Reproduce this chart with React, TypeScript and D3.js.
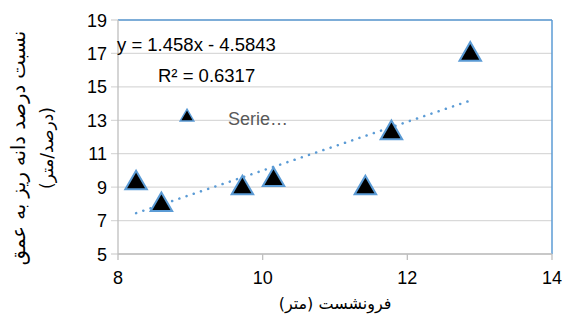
import { useEffect, useRef } from 'react';
import * as d3 from 'd3';

const xVals = [8.25, 8.6, 9.72, 10.15, 11.42, 11.78, 12.87];
const yVals = [9.3, 8.0, 9.0, 9.5, 9.0, 12.3, 17.0];
const xTicks = [8, 10, 12, 14];
const yTicks = [5, 7, 9, 11, 13, 15, 17, 19];
const slope = 1.458;
const intercept = -4.5843;
const eqLabel = 'y = 1.458x - 4.5843';
const r2Label = 'R² = 0.6317';
const seriesName = 'Serie…';
const xTitle = 'فرونشست (متر)';
const yTitle1 = 'نسبت درصد دانه ریز به عمق';
const yTitle2 = '(درصد/متر)';

const W = 563;
const H = 315;
const blue = '#5B9BD5';

export default function App() {
  const svgRef = useRef<SVGSVGElement>(null);

  useEffect(() => {
    if (!svgRef.current) return;
    const svg = d3.select(svgRef.current);
    svg.selectAll('*').remove();

    const left = 118, right = 552, top = 20, bottom = 254;
    const x = d3.scaleLinear().domain([8, 14]).range([left, right]);
    const y = d3.scaleLinear().domain([5, 19]).range([bottom, top]);

    // gridlines
    svg.append('g').selectAll('line').data(yTicks).enter().append('line')
      .attr('x1', left - 7).attr('x2', right)
      .attr('y1', d => y(d)).attr('y2', d => y(d))
      .attr('stroke', '#d9d9d9').attr('stroke-width', 1.3);

    // plot border (blue top/right)
    svg.append('line').attr('x1', left).attr('x2', right).attr('y1', top).attr('y2', top)
      .attr('stroke', blue).attr('stroke-width', 1.5);
    svg.append('line').attr('x1', right).attr('x2', right).attr('y1', top).attr('y2', bottom)
      .attr('stroke', blue).attr('stroke-width', 1.5);

    // axes
    svg.append('line').attr('x1', left).attr('x2', left).attr('y1', top).attr('y2', bottom)
      .attr('stroke', '#bfbfbf').attr('stroke-width', 1.3);
    svg.append('line').attr('x1', left).attr('x2', right).attr('y1', bottom).attr('y2', bottom)
      .attr('stroke', '#bfbfbf').attr('stroke-width', 1.3);
    svg.append('g').selectAll('line').data(xTicks).enter().append('line')
      .attr('x1', d => x(d)).attr('x2', d => x(d))
      .attr('y1', bottom).attr('y2', bottom + 6)
      .attr('stroke', '#bfbfbf').attr('stroke-width', 1.3);

    const font = '"Liberation Sans", Arial, sans-serif';
    svg.append('g').selectAll('text').data(yTicks).enter().append('text')
      .attr('x', left - 11).attr('y', d => y(d) + 6.5)
      .attr('text-anchor', 'end')
      .attr('font-family', font).attr('font-size', 18).attr('fill', '#000')
      .text(d => d);
    svg.append('g').selectAll('text').data(xTicks).enter().append('text')
      .attr('x', d => x(d)).attr('y', bottom + 30)
      .attr('text-anchor', 'middle')
      .attr('font-family', font).attr('font-size', 18).attr('fill', '#000')
      .text(d => d);

    // trendline
    const x0 = d3.min(xVals)!, x1 = d3.max(xVals)!;
    svg.append('line')
      .attr('x1', x(x0)).attr('y1', y(slope * x0 + intercept))
      .attr('x2', x(x1)).attr('y2', y(slope * x1 + intercept))
      .attr('stroke', blue).attr('stroke-width', 2.5)
      .attr('stroke-dasharray', '0.1 7.5').attr('stroke-linecap', 'round');

    // markers
    const tri = d3.symbol().type(d3.symbolTriangle).size(200);
    svg.append('g').selectAll('path').data(xVals).enter().append('path')
      .attr('d', tri)
      .attr('transform', (d, i) => `translate(${x(d)},${y(yVals[i]) + 1})`)
      .attr('fill', '#000').attr('stroke', blue).attr('stroke-width', 2);

    // legend
    const triSmall = d3.symbol().type(d3.symbolTriangle).size(80);
    svg.append('path').attr('d', triSmall)
      .attr('transform', `translate(187,117)`)
      .attr('fill', '#000').attr('stroke', blue).attr('stroke-width', 1.5);
    svg.append('text').attr('x', 228).attr('y', 125)
      .attr('font-family', font).attr('font-size', 18).attr('fill', '#595959')
      .text(seriesName);

    // equation
    svg.append('text').attr('x', 117).attr('y', 51)
      .attr('font-family', font).attr('font-size', 18.5).attr('fill', '#000')
      .text(eqLabel);
    svg.append('text').attr('x', 158).attr('y', 82)
      .attr('font-family', font).attr('font-size', 18.5).attr('fill', '#000')
      .text(r2Label);

    // titles
    const pfont = '"DejaVu Sans", sans-serif';
    svg.append('text').attr('x', 335).attr('y', 309)
      .attr('text-anchor', 'middle').attr('direction', 'rtl')
      .attr('font-family', pfont).attr('font-size', 16).attr('fill', '#000')
      .text(xTitle);
    svg.append('text').attr('transform', `translate(25,148) rotate(-90)`)
      .attr('text-anchor', 'middle').attr('direction', 'rtl')
      .attr('font-family', pfont).attr('font-size', 19.5).attr('fill', '#000')
      .text(yTitle1);
    svg.append('text').attr('transform', `translate(53,148) rotate(-90)`)
      .attr('text-anchor', 'middle').attr('direction', 'rtl')
      .attr('font-family', pfont).attr('font-size', 17).attr('fill', '#000')
      .text(yTitle2);
  }, []);

  return (
    <svg ref={svgRef} width={W} height={H}
      style={{ position: 'absolute', left: 0, top: 0, background: '#fff' }} />
  );
}
